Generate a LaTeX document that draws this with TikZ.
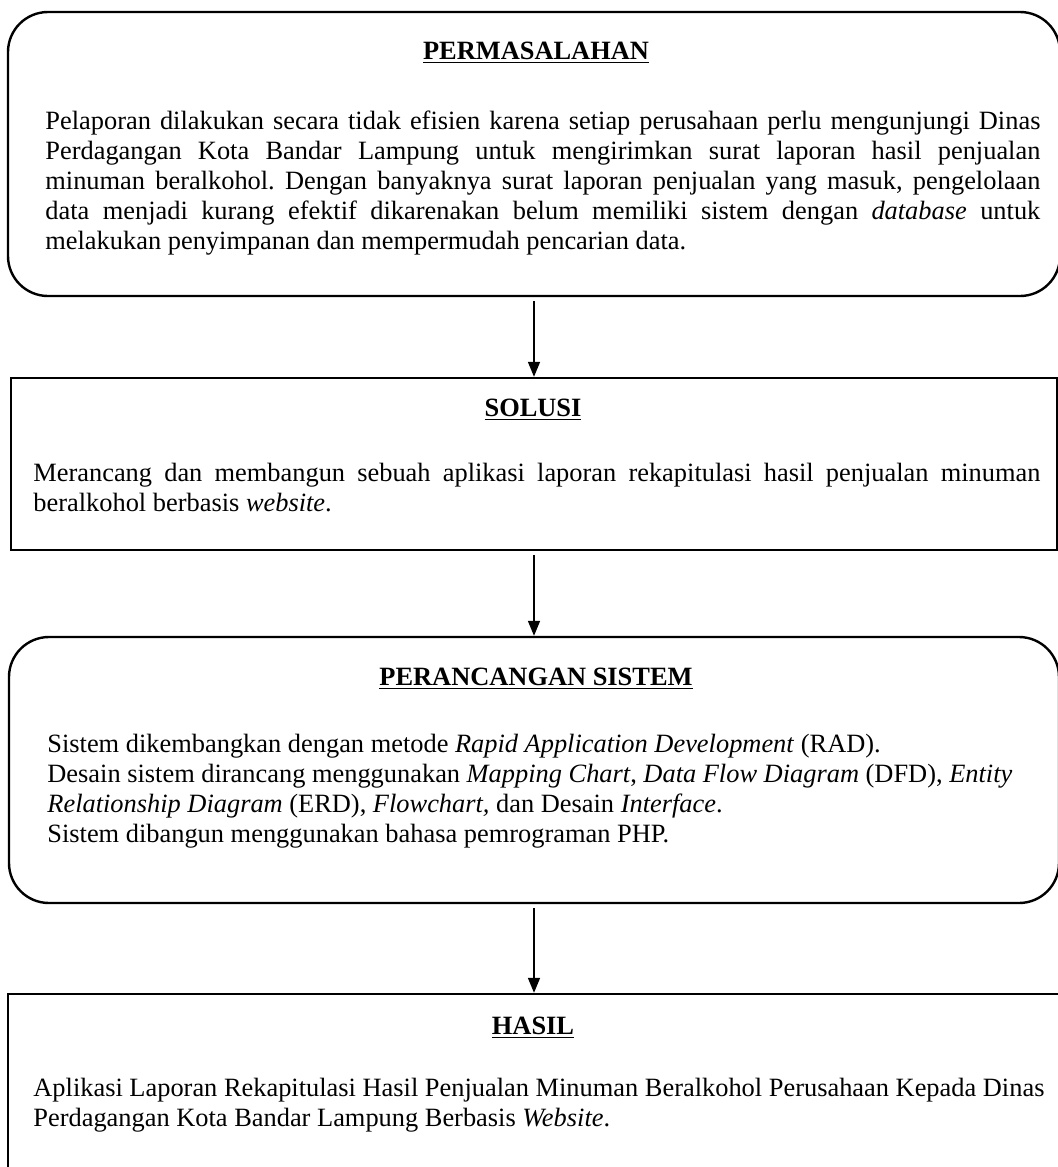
\documentclass[tikz,border=0pt]{standalone}
\usepackage{fontspec}
\setmainfont{Liberation Serif}
\usetikzlibrary{positioning, arrows.meta}
\frenchspacing

\begin{document}
\begin{tikzpicture}[x=0.5pt, y=-0.5pt,
    roundbox/.style={draw, line width=1.2pt, rounded corners=20pt, inner sep=0pt},
    plainbox/.style={draw, line width=1.2pt, inner sep=0pt},
    title/.style={anchor=base, inner sep=0pt, font=\fontsize{13.2pt}{15pt}\selectfont\bfseries},
    body/.style={anchor=base west, inner sep=0pt, font=\fontsize{13.2pt}{15pt}\selectfont},
    arr/.style={-{Triangle[width=6pt, length=7.5pt]}, line width=0.8pt, shorten <=2pt}]

    \clip (0, 0) rectangle (1058, 1167);

    % the four boxes
    \node[roundbox, minimum width=526pt, minimum height=142pt] (perm) at (534, 154) {};
    \node[plainbox, minimum width=523pt, minimum height=86pt] (sol) at (534, 464) {};
    \node[roundbox, minimum width=525pt, minimum height=133pt] (desain) at (534, 770) {};
    \node[plainbox, minimum width=526pt, minimum height=103pt] (hasil) at (534, 1097) {};

    % Permasalahan
    \node[title] (permtitle) at (536, 59) {\underline{PERMASALAHAN}};
    \node[body, text width=497.5pt, align=justify] (permtext) at (45, 129)
        {Pelaporan dilakukan secara tidak efisien karena setiap perusahaan perlu mengunjungi Dinas\linebreak
        Perdagangan Kota Bandar Lampung untuk mengirimkan surat laporan hasil penjualan\linebreak
        minuman beralkohol. Dengan banyaknya surat laporan penjualan yang masuk, pengelolaan\linebreak
        data menjadi kurang efektif dikarenakan belum memiliki sistem dengan \textit{database} untuk\linebreak
        melakukan penyimpanan dan mempermudah pencarian data.};

    % Solusi
    \node[title] (soltitle) at (533, 416) {\underline{SOLUSI}};
    \node[body, text width=503.5pt, align=justify] (soltext) at (33, 481)
        {Merancang dan membangun sebuah aplikasi laporan rekapitulasi hasil penjualan minuman\linebreak
        beralkohol berbasis \textit{website}.};

    % Perancangan sistem
    \node[title] (desaintitle) at (536, 685) {\underline{PERANCANGAN SISTEM}};
    \node[body, text width=515pt, align=flush left] (desaintext) at (47, 752)
        {Sistem dikembangkan dengan metode \textit{Rapid Application Development} (RAD).\\
        Desain sistem dirancang menggunakan \textit{Mapping Chart}, \textit{Data Flow Diagram} (DFD), \textit{Entity}\\
        \textit{Relationship Diagram} (ERD), \textit{Flowchart,} dan Desain \textit{Interface}.\\
        Sistem dibangun menggunakan bahasa pemrograman PHP.};

    % Hasil
    \node[title] (hasiltitle) at (533, 1034) {\underline{HASIL}};
    \node[body, text width=520pt, align=flush left] (hasiltext) at (33, 1096)
        {Aplikasi Laporan Rekapitulasi Hasil Penjualan Minuman Beralkohol Perusahaan Kepada Dinas\\
        Perdagangan Kota Bandar Lampung Berbasis \textit{Website}.};

    % arrows
    \draw[arr] (perm) -- (sol);
    \draw[arr] (sol) -- (desain);
    \draw[arr] (desain) -- (hasil);

\end{tikzpicture}
\end{document}
